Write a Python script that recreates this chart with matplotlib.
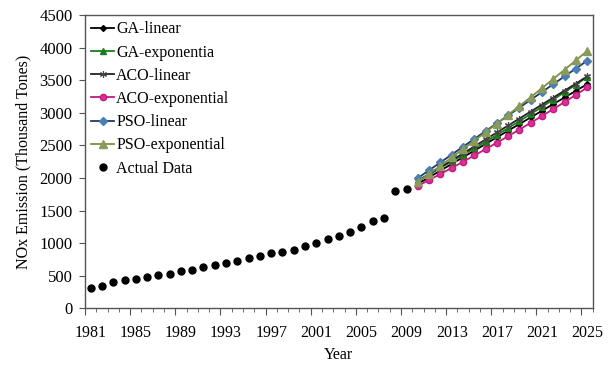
import numpy as np
import matplotlib
matplotlib.use("Agg")
import matplotlib.pyplot as plt

plt.rcParams['font.family'] = ['Liberation Serif', 'DejaVu Serif']

actual_years = list(range(1981, 2010))
actual = [307, 347, 399, 434, 454, 485, 511, 531, 572, 592, 629, 660, 700, 730,
          767, 802, 848, 859, 890, 956, 997, 1058, 1104, 1166, 1252, 1344, 1380,
          1804, 1834]

fc_years = list(range(2010, 2026))
ga_linear = [1910, 2012, 2114, 2216, 2318, 2420, 2522, 2624, 2726, 2828, 2930,
             3032, 3134, 3236, 3338, 3440]
ga_exp = [1965, 2060, 2157, 2255, 2354, 2455, 2557, 2661, 2766, 2873, 2982,
          3092, 3204, 3318, 3433, 3550]
aco_linear = [1950, 2057, 2164, 2271, 2378, 2485, 2592, 2699, 2806, 2913, 3020,
              3127, 3234, 3341, 3448, 3560]
aco_exp = [1880, 1970, 2062, 2155, 2250, 2346, 2443, 2542, 2642, 2744, 2847,
           2952, 3058, 3166, 3275, 3390]
pso_linear = [2000, 2120, 2240, 2360, 2480, 2600, 2720, 2840, 2960, 3080, 3200,
              3320, 3440, 3560, 3680, 3800]
pso_exp = [1940, 2064, 2189, 2315, 2443, 2572, 2703, 2835, 2969, 3104, 3241,
           3380, 3520, 3662, 3805, 3950]

label_years = list(range(1981, 2026, 4))
yticks = list(range(0, 4501, 500))

fig = plt.figure(figsize=(6.13, 3.68), dpi=100)
ax = fig.add_axes([0.1387, 0.162, 0.967 - 0.1387, 0.959 - 0.162])

lw = 1.3
ax.plot(fc_years, ga_linear, color='black', marker='D', ms=3, lw=lw, label='GA-linear')
ax.plot(fc_years, ga_exp, color='#1e7b1e', marker='^', ms=4, lw=lw, label='GA-exponentia')
ax.plot(fc_years, aco_linear, color='#222222', marker=(6, 2, 0), ms=5, mew=0.8, lw=lw,
        markeredgecolor='#444444', label='ACO-linear')
ax.plot(fc_years, aco_exp, color='#c21a7e', marker='o', ms=4.5, lw=lw,
        markerfacecolor='#d63394', markeredgecolor='#c21a7e', label='ACO-exponential')
ax.plot(fc_years, pso_linear, color='#1f3864', marker='D', ms=4.5, lw=lw,
        markerfacecolor='#4a7fb5', markeredgecolor='#4a7fb5', label='PSO-linear')
ax.plot(fc_years, pso_exp, color='#7a9140', marker='^', ms=6, lw=lw,
        markerfacecolor='#8a9a5b', markeredgecolor='#8a9a5b', label='PSO-exponential')
ax.plot(actual_years, actual, color='black', marker='o', ms=5, ls='none', label='Actual Data')

ax.set_xlim(1980.5, 2025.5)
ax.set_ylim(0, 4500)
ax.set_yticks(yticks)
ax.set_xticks(label_years)
ax.set_xticks(np.arange(1980.5, 2026, 1), minor=True)
ax.tick_params(axis='x', which='major', length=0, pad=12, labelsize=11.5)
ax.tick_params(axis='x', which='minor', length=3, color='#555555')
ax.tick_params(axis='y', which='major', length=4, color='#555555', labelsize=12, pad=5)

sec = ax.secondary_xaxis('bottom')
sec.set_xticks(np.arange(1980.5, 2026, 4))
sec.tick_params(length=5, color='#555555', labelbottom=False)
sec.spines['bottom'].set_visible(False)

for s in ax.spines.values():
    s.set_color('#555555')
    s.set_linewidth(1.0)

ax.set_xlabel('Year', fontsize=11.5, labelpad=4)
ax.set_ylabel('NOx Emission (Thousand Tones)', fontsize=11.5, labelpad=6)

ax.legend(loc='upper left', frameon=False, fontsize=11.5, handlelength=1.4,
          handletextpad=0.15, labelspacing=0.45, borderaxespad=0.1,
          borderpad=0.3)

fig.savefig('out.png', dpi=100)
